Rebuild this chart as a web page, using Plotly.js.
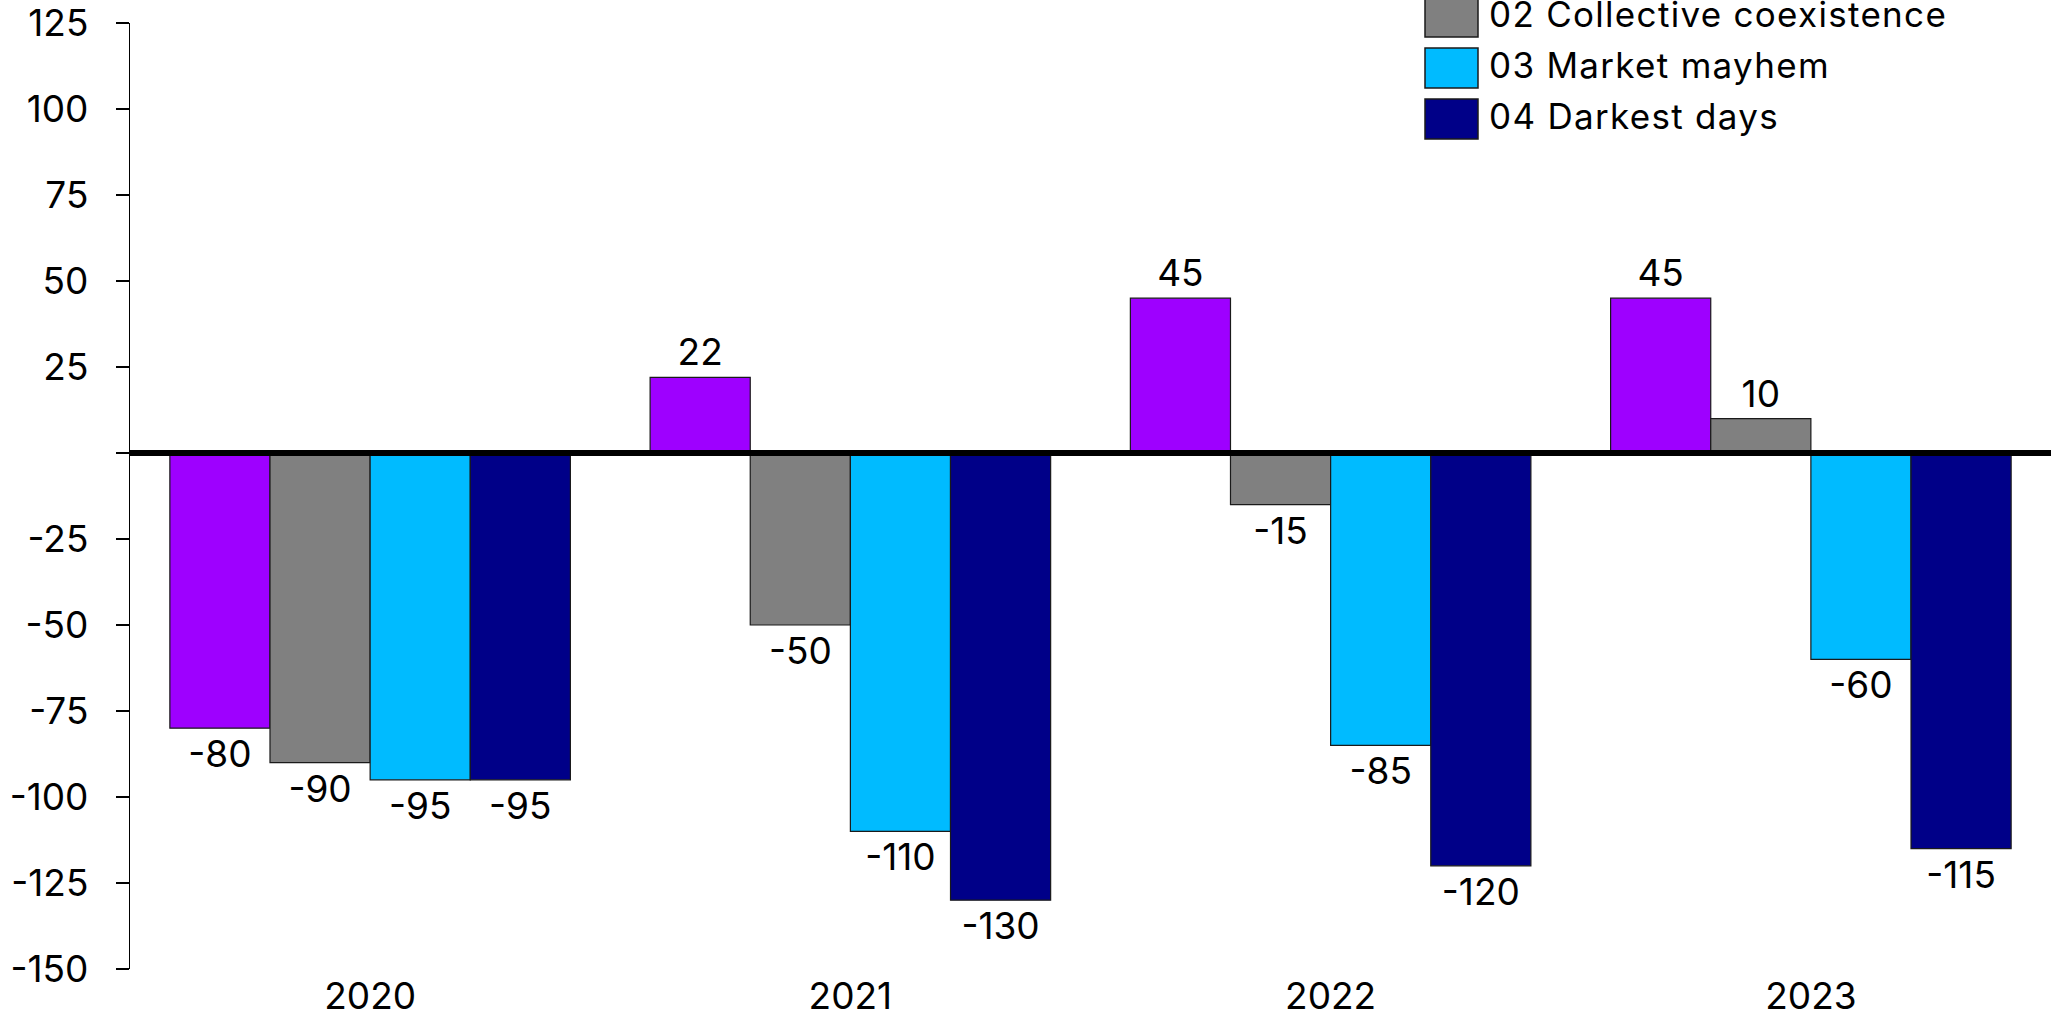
<!DOCTYPE html>
<html>
<head>
<meta charset="utf-8">
<script src="https://cdn.plot.ly/plotly-3.0.1.min.js"></script>
<style>
  html, body { margin: 0; padding: 0; background: #ffffff; }
  #chart { width: 2051px; height: 1019px; }
  .annotation-text { letter-spacing: 1.3px; }
</style>
</head>
<body>
<div id="chart"></div>
<script>
// ---- Data ----
const years = ['2020', '2021', '2022', '2023'];
const seriesNames = ['01', '02 Collective coexistence', '03 Market mayhem', '04 Darkest days'];
const s01 = [-80, 22, 45, 45];
const s02 = [-90, -50, -15, 10];
const s03 = [-95, -110, -85, -60];
const s04 = [-95, -130, -120, -115];
const seriesValues = [s01, s02, s03, s04];
const seriesColors = ['#9E00FF', '#808080', '#00BBFF', '#000088'];
const yTicks = [-150, -125, -100, -75, -50, -25, 0, 25, 50, 75, 100, 125];

// ---- Layout constants ----
const W = 2051, H = 1019;
const M = { l: 130, r: 0, t: 23, b: 50 };
const FONT = 'Inter, "Open Sans", sans-serif';
const plotW = W - M.l - M.r, plotH = H - M.t - M.b;
const pxToPaperX = px => (px - M.l) / plotW;
const pxToPaperY = py => (H - M.b - py) / plotH;

const traces = seriesValues.map((vals, i) => ({
  type: 'bar',
  name: seriesNames[i],
  x: years,
  y: vals,
  text: vals.map(v => String(v)),
  textposition: 'outside',
  constraintext: 'none',
  cliponaxis: false,
  textfont: { family: FONT, size: 37, color: '#000000' },
  marker: { color: seriesColors[i], line: { color: '#1a1a1a', width: 1.2 } },
  showlegend: false,
  hoverinfo: 'x+y+name'
}));

// Custom legend (large swatches), top-right; the first row lies above the top edge
const shapes = [];
const annotations = [];
const legendX = pxToPaperX(1425);
const rowCenter0 = -34; // pixel y of first row centre
const rowPitch = 51;
seriesNames.forEach((name, i) => {
  const cy = rowCenter0 + rowPitch * i;
  if (cy < -10) return; // row entirely above the visible area
  const yp = pxToPaperY(cy);
  shapes.push({
    type: 'rect', xref: 'paper', yref: 'paper',
    xsizemode: 'pixel', ysizemode: 'pixel',
    xanchor: legendX, yanchor: yp,
    x0: 0, x1: 53, y0: -20, y1: 20,
    fillcolor: seriesColors[i],
    line: { color: '#1a1a1a', width: 1.5 },
    layer: 'above'
  });
  annotations.push({
    xref: 'paper', yref: 'paper',
    x: pxToPaperX(1487), y: pxToPaperY(cy - 3),
    xanchor: 'left', yanchor: 'middle',
    text: name, showarrow: false,
    font: { family: FONT, size: 35, color: '#000000' }
  });
});

// Thick zero baseline above the bars
shapes.push({
  type: 'line', xref: 'paper', yref: 'y',
  x0: 0, x1: 1, y0: 0, y1: 0,
  line: { color: '#000000', width: 6 },
  layer: 'above'
});

const layout = {
  width: W, height: H,
  margin: { l: M.l, r: M.r, t: M.t, b: M.b, pad: 0, autoexpand: false },
  paper_bgcolor: '#ffffff',
  plot_bgcolor: '#ffffff',
  barmode: 'group',
  bargap: 0.166,
  bargroupgap: 0,
  showlegend: false,
  font: { family: FONT, size: 37, color: '#000000' },
  xaxis: {
    type: 'category',
    range: [-0.5, 3.5],
    showline: false, showgrid: false, zeroline: false,
    ticks: '',
    ticklabelstandoff: 2,
    ticklabeloverflow: 'allow',
    tickfont: { family: FONT, size: 37, color: '#000000' },
    fixedrange: true
  },
  yaxis: {
    range: [-150, 125],
    showline: true, linecolor: '#000000', linewidth: 1.2,
    showgrid: false, zeroline: false,
    ticks: 'outside', ticklen: 13, tickwidth: 1.2, tickcolor: '#000000',
    tickvals: yTicks,
    ticktext: yTicks.map(v => v === 0 ? '' : String(v)),
    ticklabelstandoff: 20,
    ticklabeloverflow: 'allow',
    tickfont: { family: FONT, size: 37, color: '#000000' },
    fixedrange: true
  },
  shapes: shapes,
  annotations: annotations
};

Plotly.newPlot('chart', traces, layout, { displayModeBar: false, staticPlot: true });
</script>
</body>
</html>
